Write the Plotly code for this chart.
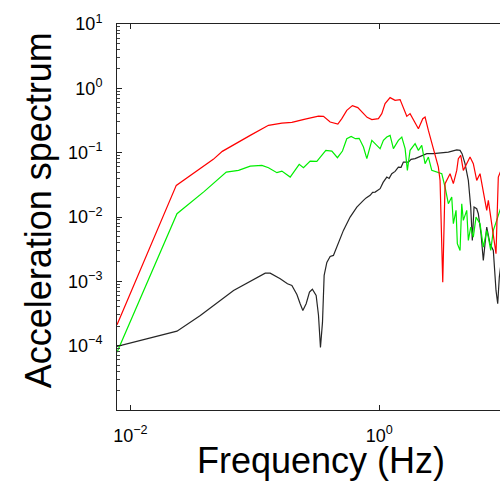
import plotly.graph_objects as go

# ---- data (Hz, acceleration spectrum) ----
red_freq = [0.00782, 0.0234, 0.0464, 0.0548, 0.0919, 0.1288, 0.165, 0.1985, 0.2538, 0.3246,
            0.356, 0.4029, 0.4645, 0.500, 0.548, 0.608, 0.672, 0.746, 0.798, 0.871,
            0.984, 1.047, 1.113, 1.221, 1.339, 1.469, 1.561, 1.663, 1.767, 1.903,
            2.061, 2.235, 2.332, 2.479, 2.639, 2.805, 2.982, 3.077, 3.151, 3.234,
            3.375, 3.701, 3.934, 4.190, 4.314, 4.510, 4.732, 5.040, 5.356, 5.692,
            6.061, 6.444, 6.848, 7.294, 7.512, 7.852, 8.240, 8.660, 9.036, 9.497]
red_vals = [2.11e-4, 0.0310, 0.0787, 0.1048, 0.1858, 0.266, 0.2886, 0.296, 0.333, 0.371,
            0.367, 0.299, 0.2785, 0.338, 0.455, 0.538, 0.501, 0.404, 0.354, 0.326,
            0.338, 0.404, 0.578, 0.717, 0.651, 0.667, 0.512, 0.367, 0.404, 0.318,
            0.236, 0.338, 0.358, 0.222, 0.146, 0.0965, 0.0597, 0.0371, 0.00886, 9.72e-4,
            0.0330, 0.0471, 0.0330, 0.0530, 0.0807, 0.0908, 0.0530, 0.0675, 0.0854, 0.0675,
            0.0371, 0.0471, 0.0259, 0.01267, 0.0181, 0.00997, 0.00619, 0.00269, 0.0417, 0.0530]

green_freq = [0.00782, 0.0237, 0.0393, 0.0590, 0.0740, 0.0919, 0.114, 0.1288, 0.1505, 0.165,
              0.1924, 0.2111, 0.2273, 0.246, 0.2784, 0.315, 0.341, 0.372, 0.4158, 0.461,
              0.5058, 0.548, 0.594, 0.643, 0.689, 0.746, 0.794, 0.871, 0.955, 1.015,
              1.079, 1.149, 1.221, 1.298, 1.423, 1.516, 1.612, 1.681, 1.767, 1.939,
              2.061, 2.193, 2.332, 2.479, 2.639, 2.894, 3.176, 3.375, 3.587, 3.819,
              3.934, 4.136, 4.236, 4.453, 4.595, 4.732, 5.040, 5.191, 5.425, 5.692,
              5.984, 6.444, 6.848, 7.294, 7.512, 7.852, 8.240, 8.772, 9.497]
green_vals = [7.93e-5, 0.01125, 0.0250, 0.0499, 0.0531, 0.0619, 0.0635, 0.0584, 0.0489, 0.0517,
              0.0417, 0.0531, 0.0658, 0.0584, 0.0740, 0.0732, 0.0876, 0.1086, 0.1059, 0.0836,
              0.1059, 0.165, 0.179, 0.165, 0.167, 0.1222, 0.0807, 0.1553, 0.130, 0.1154,
              0.1553, 0.1749, 0.1858, 0.1154, 0.1553, 0.1749, 0.1154, 0.0531, 0.1086, 0.138,
              0.1086, 0.130, 0.0675, 0.0854, 0.0531, 0.0499, 0.0471, 0.0292, 0.0161, 0.0204,
              0.00787, 0.01267, 0.00384, 0.00302, 0.0161, 0.00886, 0.01267, 0.00433, 0.00697, 0.00487,
              0.00997, 0.00787, 0.0034, 0.00619, 0.00487, 0.00302, 0.00619, 0.00886, 0.01426]

black_freq = [0.00782, 0.0237, 0.0365, 0.0675, 0.1212, 0.1329, 0.16, 0.183, 0.1985, 0.2178,
              0.2314, 0.2432, 0.2585, 0.2749, 0.290, 0.311, 0.3246, 0.3368, 0.3496, 0.3606,
              0.379, 0.4029, 0.428, 0.4696, 0.515, 0.583, 0.66, 0.746, 0.7838, 0.844,
              0.884, 0.926, 1.015, 1.073, 1.149, 1.199, 1.26, 1.339, 1.423, 1.496,
              1.561, 1.713, 1.800, 1.939, 2.049, 2.193, 2.406, 2.719, 3.077, 3.587,
              4.19, 4.453, 4.62, 4.883, 5.191, 5.425, 5.588, 5.768, 6.061, 6.244,
              6.563, 6.848, 7.294, 7.75, 8.24, 8.66, 8.937, 9.205, 9.497]
black_vals = [9.72e-5, 1.68e-4, 2.95e-4, 7.22e-4, 1.34e-3, 1.34e-3, 1.10e-3, 9.18e-4, 8.64e-4, 6.25e-4,
              4.48e-4, 3.53e-4, 4.48e-4, 6.79e-4, 7.54e-4, 6.04e-4, 3.0e-4, 9.38e-5, 2.30e-4, 1.235e-3,
              1.97e-3, 2.44e-3, 2.53e-3, 3.84e-3, 6.19e-3, 9.97e-3, 0.01426, 0.0181, 0.0198, 0.0217,
              0.0241, 0.0244, 0.02755, 0.0345, 0.0417, 0.0398, 0.0471, 0.0512, 0.0597, 0.0591,
              0.0714, 0.0714, 0.0787, 0.0807, 0.0845, 0.0908, 0.0965, 0.0965, 0.0986, 0.1022,
              0.1105, 0.1086, 0.0965, 0.0675, 0.0371, 0.01426, 0.00433, 0.01426, 0.01346, 0.01125,
              0.0055, 2.11e-3, 0.00697, 3.84e-3, 0.00302, 7.22e-4, 4.48e-4, 1.16e-3, 1.88e-3]

x_tickvals = [0.01, 1]
x_ticktext = ["10<sup>\u22122</sup>", "10<sup>0</sup>"]
y_tickvals = [1e-4, 1e-3, 1e-2, 1e-1, 1, 10]
y_ticktext = ["10<sup>\u22124</sup>", "10<sup>\u22123</sup>", "10<sup>\u22122</sup>",
              "10<sup>\u22121</sup>", "10<sup>0</sup>", "10<sup>1</sup>"]

x_title = "Frequency (Hz)"
y_title = "Acceleration spectrum"

FONT = "Liberation Sans, Arial, Helvetica, sans-serif"

fig = go.Figure()
fig.add_trace(go.Scatter(x=black_freq, y=black_vals, mode="lines",
                         line=dict(color="#262626", width=1.2), showlegend=False))
fig.add_trace(go.Scatter(x=green_freq, y=green_vals, mode="lines",
                         line=dict(color="#00ee00", width=1.2), showlegend=False))
fig.add_trace(go.Scatter(x=red_freq, y=red_vals, mode="lines",
                         line=dict(color="#ff0000", width=1.2), showlegend=False))

fig.update_layout(
    width=500, height=482,
    margin=dict(l=117, r=0, t=24, b=72),
    paper_bgcolor="white", plot_bgcolor="white",
    font=dict(family=FONT, size=18, color="black"),
    xaxis=dict(type="log", range=[-2.107, 0.9696],
               tickvals=x_tickvals, ticktext=x_ticktext,
               showgrid=False, zeroline=False,
               showline=True, linecolor="#222", linewidth=1, mirror="ticks",
               ticks="inside", ticklen=5, tickcolor="#222",
               ticklabelstandoff=9),
    yaxis=dict(type="log", range=[-5, 1],
               tickvals=y_tickvals, ticktext=y_ticktext,
               showgrid=False, zeroline=False,
               showline=True, linecolor="#222", linewidth=1, mirror=False,
               ticks="inside", ticklen=5, tickcolor="#222",
               ticklabelstandoff=10,
               minor=dict(ticks="inside", ticklen=3, tickcolor="#444",
                          dtick="D1", showgrid=False)),
    annotations=[
        dict(text=x_title, xref="paper", yref="paper", x=0.532, y=-0.13,
             xanchor="center", yanchor="middle", showarrow=False,
             font=dict(family=FONT, size=36, color="black")),
        dict(text=y_title, xref="paper", yref="paper", x=-0.204, y=0.517,
             xanchor="center", yanchor="middle", showarrow=False, textangle=-90,
             font=dict(family=FONT, size=36, color="black")),
    ],
)

# remove the page's default body margin so the 500x482 figure fills the window
fig.write_html("out.html",
               config={"displayModeBar": False},
               post_script="document.body.style.margin='0';document.body.style.overflow='hidden';")
